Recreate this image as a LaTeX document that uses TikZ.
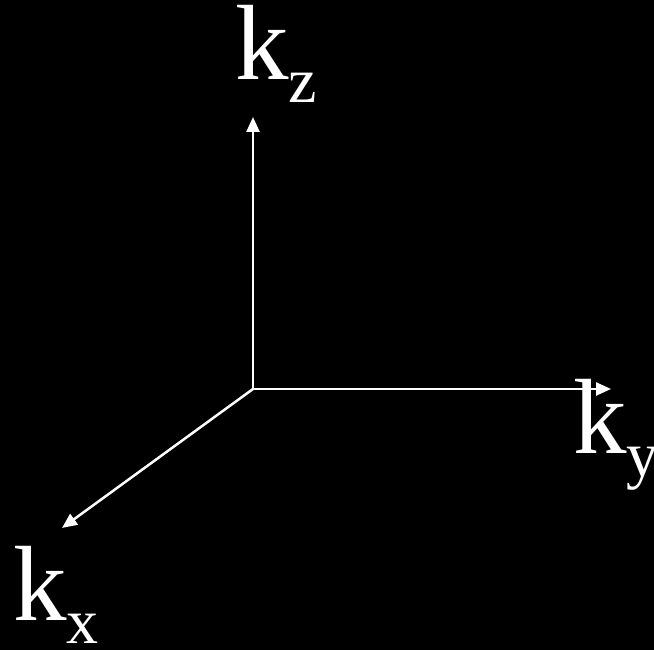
\documentclass[tikz,border=0pt]{standalone}
\usepackage{fontspec}
\setmainfont{Liberation Serif}
\usetikzlibrary{arrows.meta}
\newcommand{\kaxis}[1]{k\raisebox{-23pt}{\fontsize{64}{64}\selectfont #1}}
\tikzset{
  axis/.style={-{Triangle[length=15pt,width=13pt]},line width=2.5pt,draw=white},
  axlabel/.style={anchor=base west,inner sep=0pt,text=white,font=\fontsize{107}{110}\selectfont},
}
\begin{document}
\begin{tikzpicture}[x=1pt,y=-1pt]
\fill[black] (0,0) rectangle (654,650);
\useasboundingbox (0,0) rectangle (654,650);
% origin and axis ends
\coordinate (O) at (253,389);
\coordinate (zend) at (253,117);
\coordinate (yend) at (611,389);
\coordinate (xend) at (62,528);

\draw[axis] (O) -- (zend);
\draw[axis] (O) -- (yend);
\draw[axis] (O) -- (xend);

% labels
\node[axlabel] (kz) at (235,80) {\kaxis{z}};
\node[axlabel] (ky) at (573,453) {\kaxis{y}};
\node[axlabel] (kx) at (13,620) {\kaxis{x}};
\end{tikzpicture}
\end{document}
